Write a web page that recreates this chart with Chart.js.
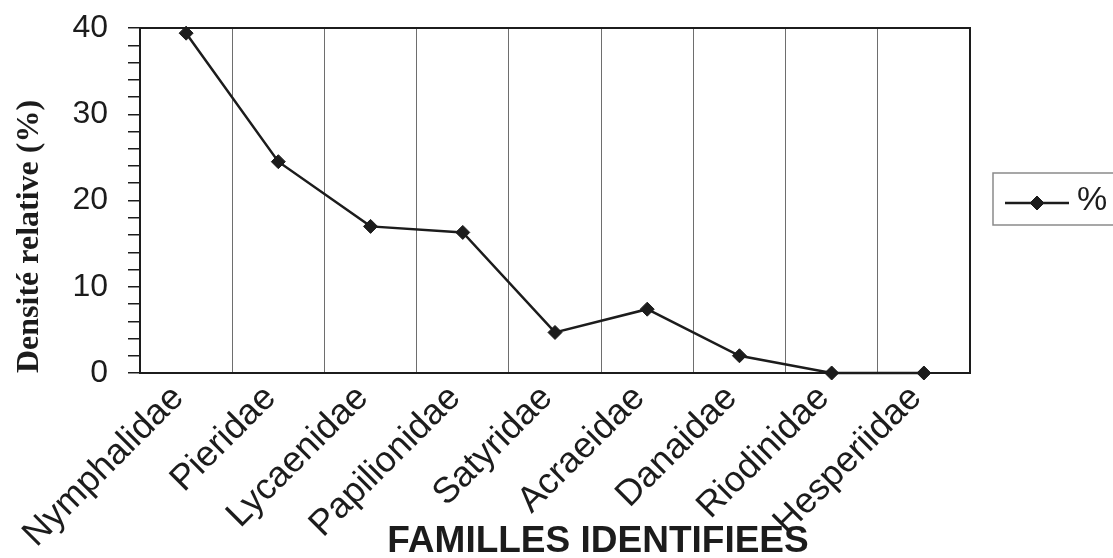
<!DOCTYPE html>
<html lang="fr">
<head>
<meta charset="utf-8">
<title>Familles identifiées</title>
<script src="https://cdn.jsdelivr.net/npm/chart.js@4.4.1/dist/chart.umd.min.js"></script>
<style>
  html, body { margin: 0; padding: 0; background: #ffffff; }
  #wrap { width: 1113px; height: 558px; position: relative; }
</style>
</head>
<body>
<div id="wrap"><canvas id="chart" width="1113" height="558"></canvas></div>
<script>
// Familles de papillons et densité relative (%)
const familles = ['Nymphalidae', 'Pieridae', 'Lycaenidae', 'Papilionidae', 'Satyridae',
                  'Acraeidae', 'Danaidae', 'Riodinidae', 'Hesperiidae'];
const densite = [39.4, 24.5, 17.0, 16.3, 4.7, 7.4, 2.0, 0, 0];
const yMajorTicks = [0, 10, 20, 30, 40];
const serieLabel = '%';
const titreY = 'Densité relative (%)';
const titreX = 'FAMILLES IDENTIFIEES';

const INK = '#1c1c1c';
const SANS = '"Liberation Sans", Arial, sans-serif';
const SERIF = '"Liberation Serif", "Times New Roman", serif';

// Cadre noir autour de la zone de tracé
const framePlugin = {
  id: 'frame',
  beforeDatasetsDraw(chart) {
    const { ctx, chartArea: a } = chart;
    ctx.save();
    ctx.strokeStyle = INK;
    ctx.lineWidth = 2;
    ctx.strokeRect(a.left, a.top, a.right - a.left, a.bottom - a.top);
    ctx.restore();
  }
};

// Titre de l'axe des abscisses, sous les libellés inclinés
const xTitlePlugin = {
  id: 'xTitle',
  afterDraw(chart) {
    const { ctx } = chart;
    ctx.save();
    ctx.fillStyle = INK;
    ctx.font = 'bold 37px ' + SANS;
    ctx.textAlign = 'center';
    ctx.textBaseline = 'middle';
    ctx.fillText(titreX, 598, 542);
    ctx.restore();
  }
};

// Légende encadrée à droite : trait + losange + libellé de la série
const boxLegendPlugin = {
  id: 'boxLegend',
  afterDraw(chart) {
    const { ctx } = chart;
    const ds = chart.data.datasets[0];
    const x0 = 993, y0 = 173, y1 = 225;
    const midY = 203;
    ctx.save();
    ctx.strokeStyle = '#8a8a8a';
    ctx.lineWidth = 1.5;
    ctx.strokeRect(x0, y0, 1140 - x0, y1 - y0);
    ctx.strokeStyle = ds.borderColor;
    ctx.lineWidth = ds.borderWidth;
    ctx.beginPath();
    ctx.moveTo(1005, midY);
    ctx.lineTo(1069, midY);
    ctx.stroke();
    ctx.fillStyle = ds.pointBackgroundColor;
    ctx.strokeStyle = ds.pointBorderColor;
    ctx.lineWidth = ds.pointBorderWidth;
    Chart.helpers.drawPoint(ctx, { pointStyle: ds.pointStyle, radius: ds.pointRadius, borderWidth: ds.pointBorderWidth }, 1037, midY);
    ctx.fillStyle = INK;
    ctx.font = '34px ' + SANS;
    ctx.textAlign = 'left';
    ctx.textBaseline = 'middle';
    ctx.fillText(ds.label, 1077, 201);
    ctx.restore();
  }
};

new Chart(document.getElementById('chart'), {
  type: 'line',
  data: {
    labels: familles,
    datasets: [{
      label: serieLabel,
      data: densite,
      borderColor: INK,
      borderWidth: 2.5,
      pointStyle: 'rectRot',
      pointRadius: 7,
      pointBackgroundColor: INK,
      pointBorderColor: INK,
      pointBorderWidth: 1,
      tension: 0,
      clip: false
    }]
  },
  options: {
    responsive: false,
    animation: false,
    events: [],
    layout: { padding: { left: 0, top: 0, right: 143, bottom: 0 } },
    plugins: {
      legend: { display: false },
      tooltip: { enabled: false }
    },
    scales: {
      x: {
        type: 'category',
        offset: true,
        grid: { offset: true, drawTicks: false, color: '#6e6e6e', lineWidth: 1 },
        border: { display: true, color: INK, width: 2 },
        ticks: {
          color: INK,
          font: { family: SANS, size: 36 },
          minRotation: 45,
          maxRotation: 45,
          autoSkip: false,
          padding: 4,
          labelOffset: -8
        },
        title: { display: false },
        afterFit(scale) { scale.height = 185; }
      },
      y: {
        min: 0,
        max: 40,
        grid: { drawOnChartArea: false, drawTicks: true, tickLength: 12, color: INK, lineWidth: 1.5 },
        border: { display: true, color: INK, width: 2 },
        ticks: {
          stepSize: 2,
          autoSkip: false,
          color: INK,
          padding: 20,
          font: { family: SANS, size: 32, lineHeight: 0.5 },
          callback: (v) => yMajorTicks.includes(v) ? String(v) : ''
        },
        title: {
          display: true,
          text: titreY,
          align: 'start',
          color: INK,
          font: { family: SERIF, size: 32, weight: 'bold' },
          padding: { top: 11, bottom: 0 }
        },
        afterFit(scale) { scale.width = 140; }
      }
    }
  },
  plugins: [framePlugin, xTitlePlugin, boxLegendPlugin]
});
</script>
</body>
</html>
